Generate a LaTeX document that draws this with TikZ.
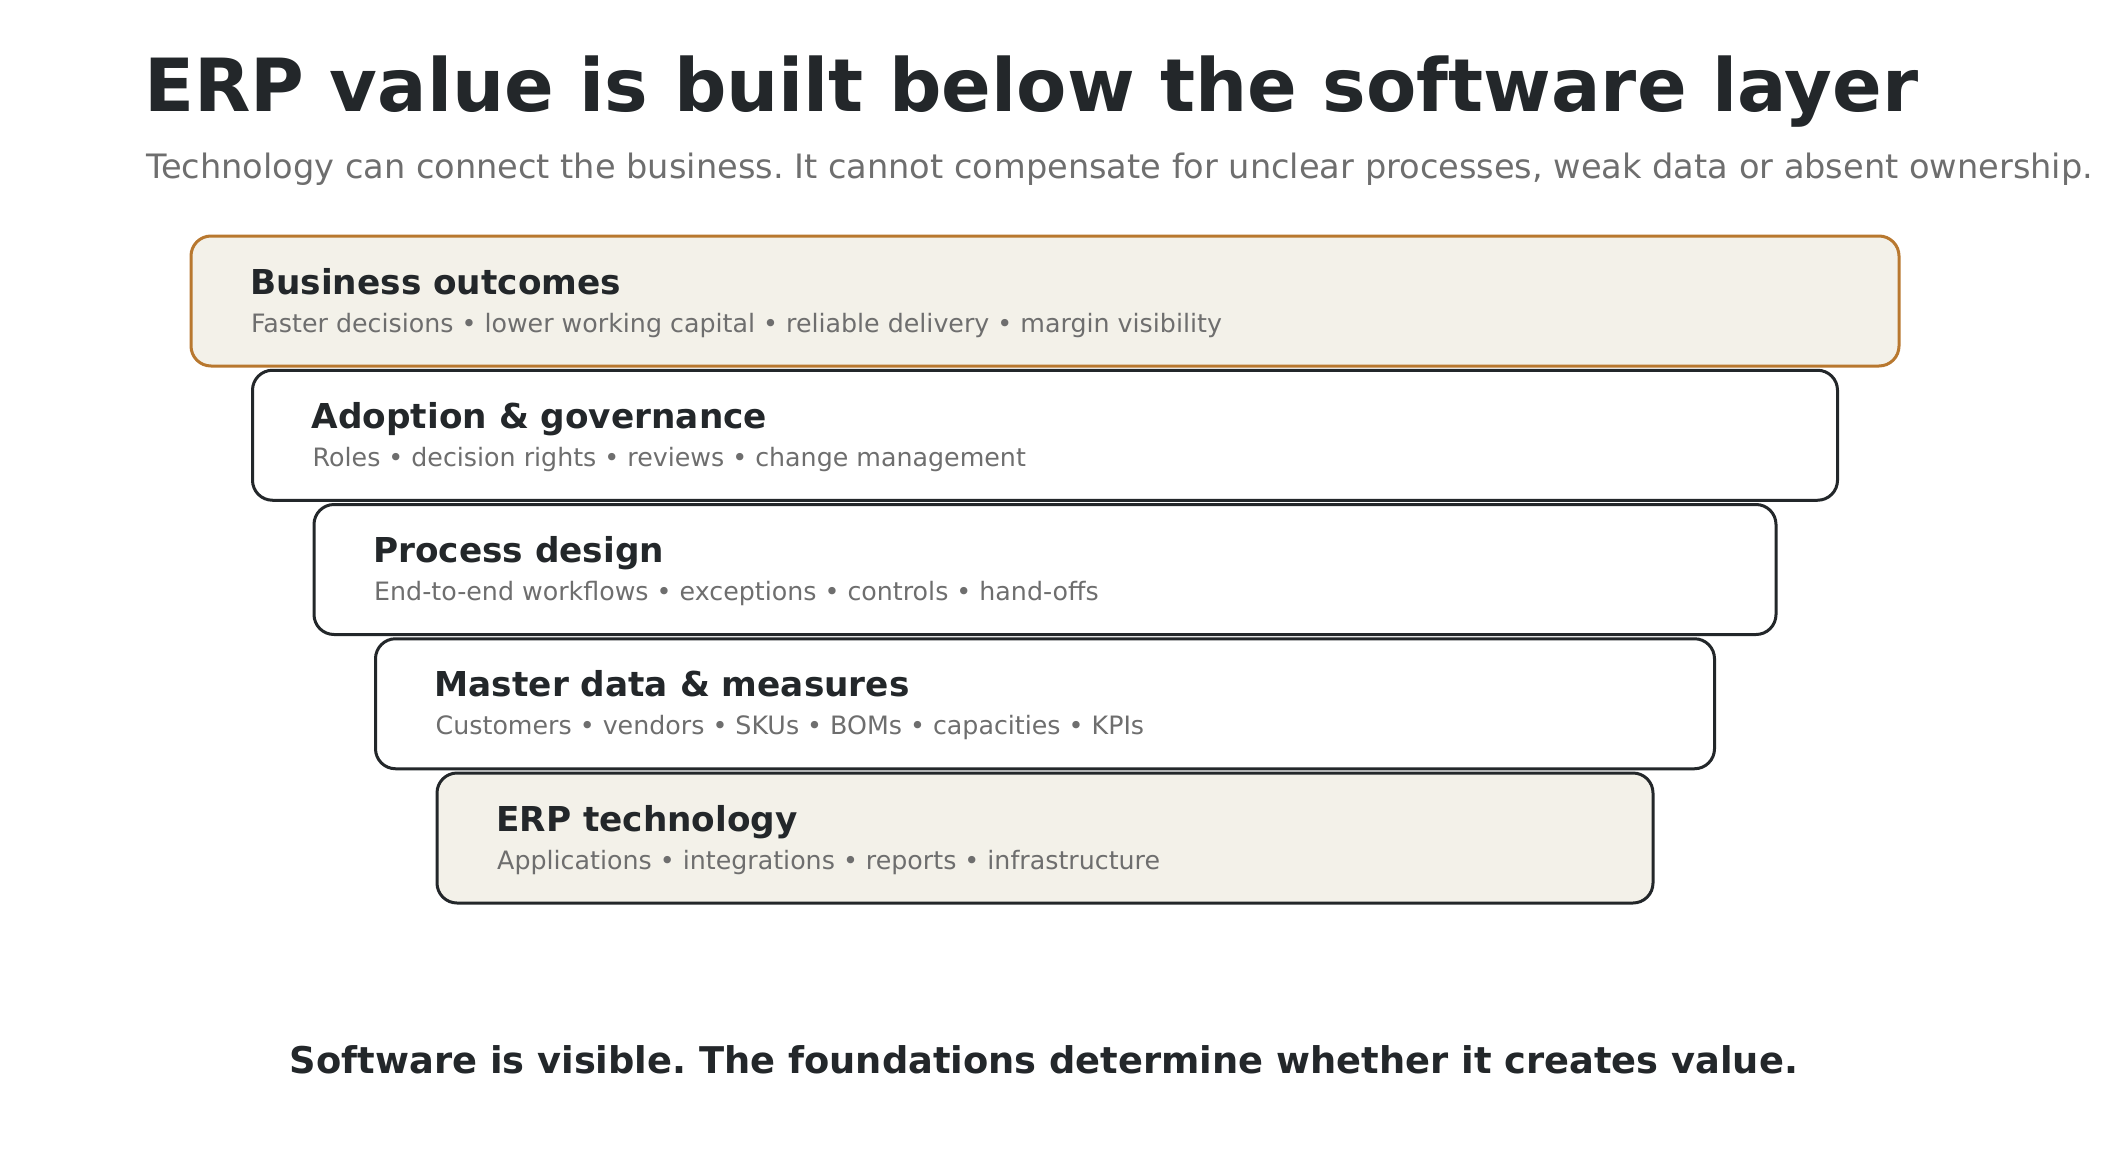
\documentclass[tikz,border=0pt]{standalone}
\usepackage{fontspec}
\setmainfont{DejaVu Sans}
\frenchspacing
\definecolor{inkdark}{HTML}{23272A}
\definecolor{inkgrey}{HTML}{6E6E6E}
\definecolor{copper}{HTML}{B8782F}
\definecolor{sand}{HTML}{F3F1E9}
\begin{document}
\begin{tikzpicture}[x=1pt,y=-1pt,
    layer/.style={draw=inkdark, line width=3pt, rounded corners=20pt, minimum height=130pt, inner sep=0pt},
    head/.style={anchor=base west, inner sep=0pt, text=inkdark, font=\fontsize{34.3}{40}\selectfont\bfseries},
    sub/.style={anchor=base west, inner sep=0pt, text=inkgrey, font=\fontsize{25.3}{30}\selectfont}]
   \useasboundingbox (0,0) rectangle (2113,1162);
   \node[anchor=base west, inner sep=0pt, text=inkdark, font=\fontsize{73.3}{80}\selectfont\bfseries] (title) at (144,111) {ERP value is built below the software layer};
   \node[anchor=base west, inner sep=0pt, text=inkgrey, font=\fontsize{33.6}{40}\selectfont] (subtitle) at (146,178) {Technology can connect the business. It cannot compensate for unclear processes, weak data or absent ownership.};
   % layers, top to bottom
   \node[layer, draw=copper, fill=sand, minimum width=1708pt] (outcomes) at (1045,301) {};
   \node[layer, fill=white, minimum width=1585pt] (adoption) at (1045,435.25) {};
   \node[layer, fill=white, minimum width=1462pt] (process) at (1045,569.5) {};
   \node[layer, fill=white, minimum width=1339pt] (masterdata) at (1045,703.75) {};
   \node[layer, fill=sand, minimum width=1216pt] (technology) at (1045,838) {};
   \node[head] (outcomes-h) at (250,294) {Business outcomes};
   \node[sub] (outcomes-s) at (251,332) {Faster decisions • lower working capital • reliable delivery • margin visibility};
   \node[head] (adoption-h) at (311.5,428.25) {Adoption \& governance};
   \node[sub] (adoption-s) at (312.5,466.25) {Roles • decision rights • reviews • change management};
   \node[head] (process-h) at (373,562.5) {Process design};
   \node[sub] (process-s) at (374,600.5) {End-to-end workflows • exceptions • controls • hand-offs};
   \node[head] (masterdata-h) at (434.5,696.75) {Master data \& measures};
   \node[sub] (masterdata-s) at (435.5,734.75) {Customers • vendors • SKUs • BOMs • capacities • KPIs};
   \node[head] (technology-h) at (496,831) {ERP technology};
   \node[sub] (technology-s) at (497,869) {Applications • integrations • reports • infrastructure};
   \node[anchor=base, inner sep=0pt, text=inkdark, font=\fontsize{36.8}{42}\selectfont\bfseries] (footer) at (1044,1073) {Software is visible. The foundations determine whether it creates value.};
\end{tikzpicture}
\end{document}
